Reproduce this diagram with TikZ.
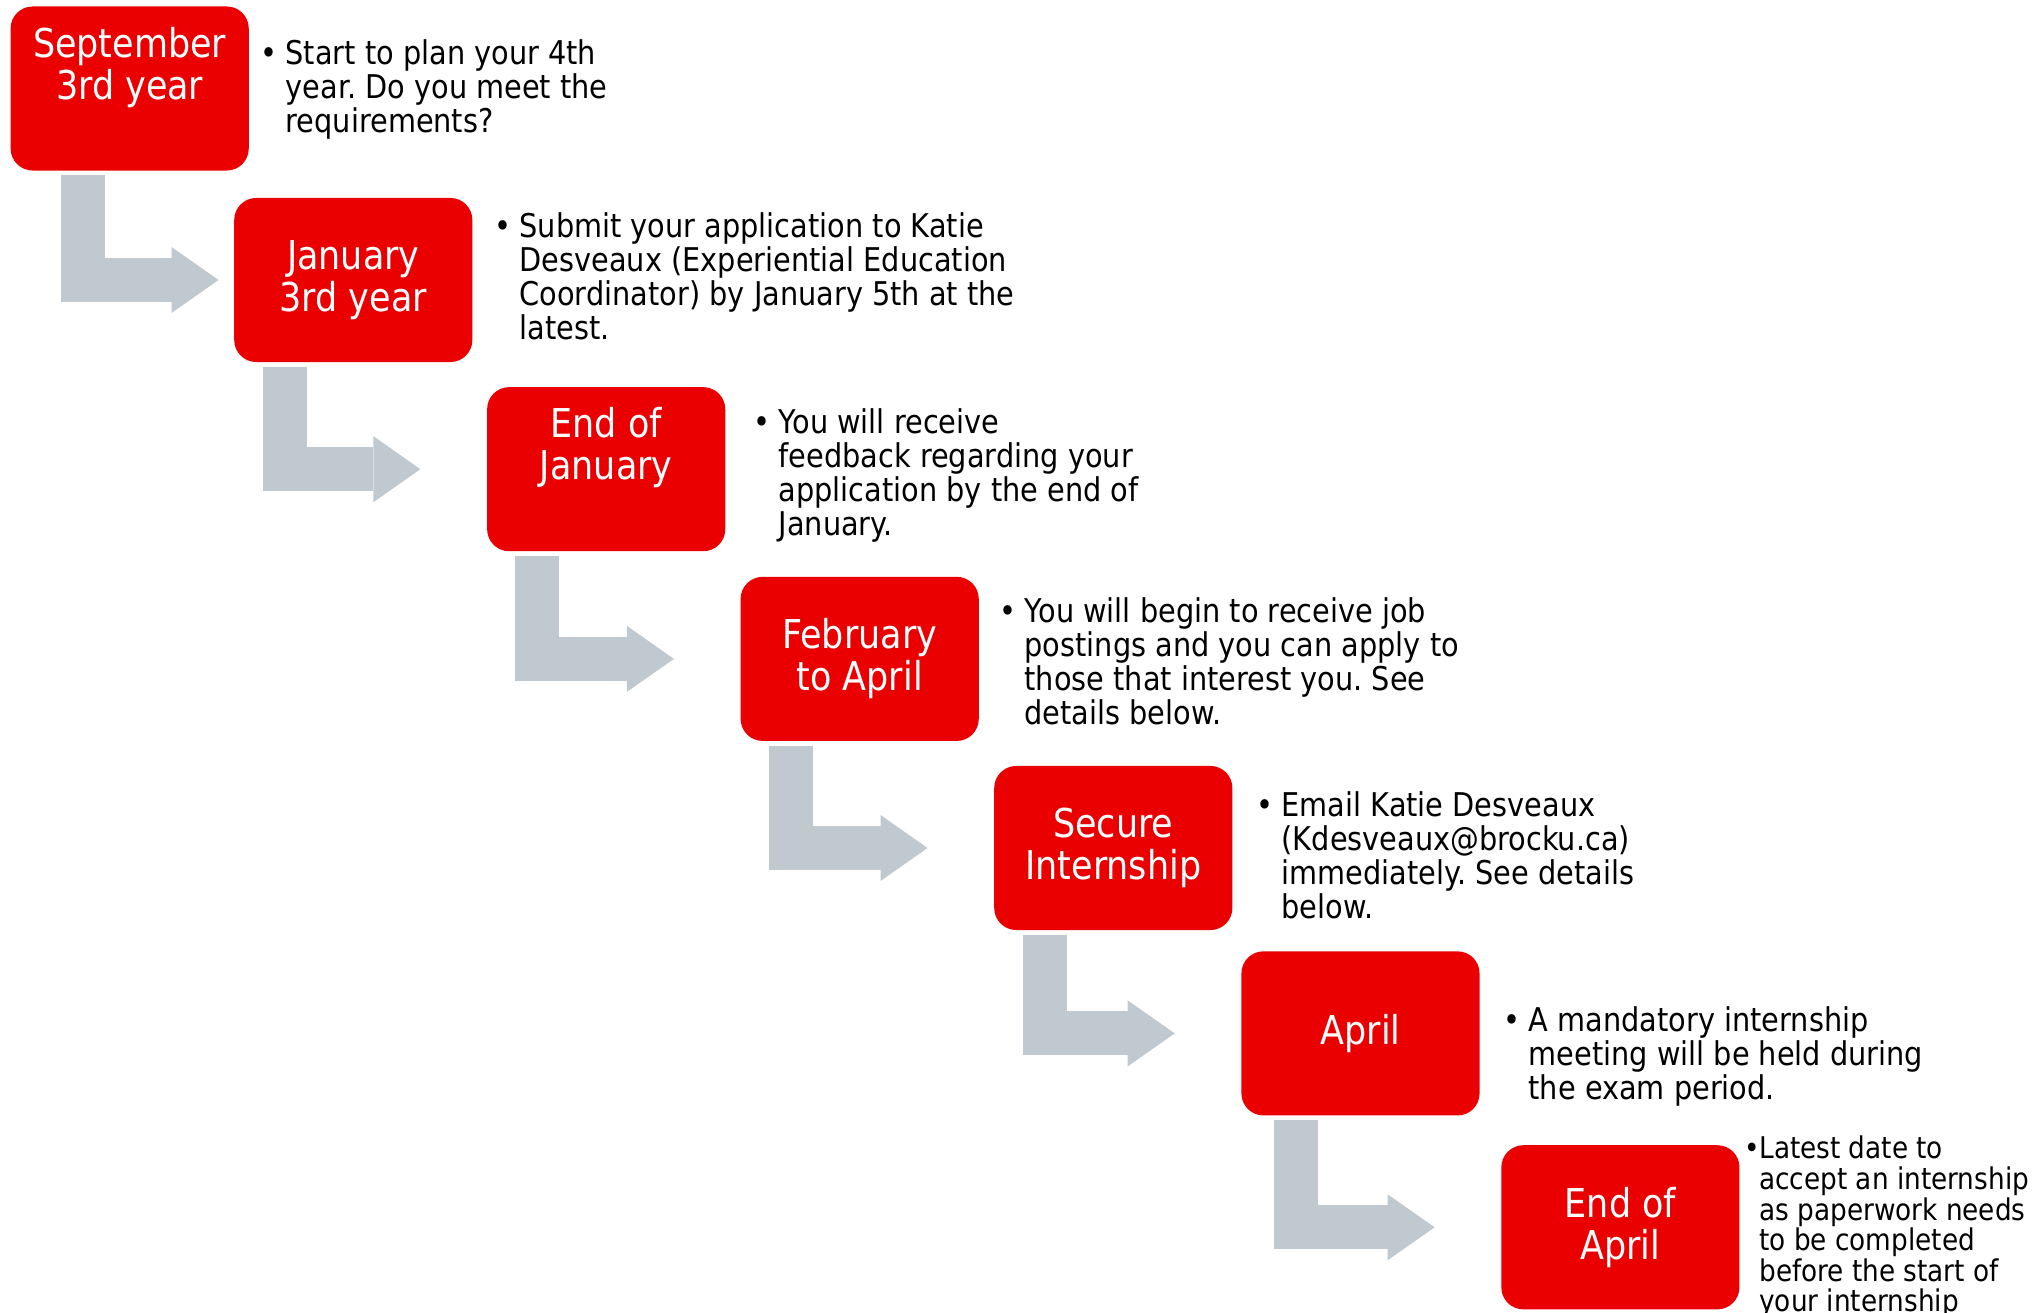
\documentclass[tikz,border=0pt]{standalone}
\usepackage{fontspec}
\setmainfont{DejaVu Sans}[FakeStretch=0.88]
\usetikzlibrary{arrows.meta,calc}
\frenchspacing
\definecolor{stagered}{RGB}{234,0,0}
\definecolor{elbowgrey}{RGB}{192,200,208}
\tikzstyle{stage}=[fill=stagered, rounded corners=0.22cm, minimum width=2.38cm, minimum height=1.64cm, inner sep=0pt, text=white, align=center, font=\fontsize{11.3}{11.95}\selectfont]
\tikzstyle{note}=[anchor=base west, inner sep=0pt, font=\fontsize{9.3}{9.6}\selectfont]
\tikzstyle{elbow}=[draw=elbowgrey, line width=4.4mm, line join=miter, -{Triangle[length=4.7mm, width=6.6mm, line width=0pt]}]
\newcommand{\bul}[2][7.1pt]{%
  \makebox[#1][l]{\textbullet}%
  \vtop{\lineskiplimit=-\maxdimen\let\\\cr\halign{##\hfil\cr#2\crcr}}%
}

\begin{document}
\begin{tikzpicture}[x=0.01cm, y=-0.01cm]
    \useasboundingbox (0,0) rectangle (2044,1313);
    % stages
    \node[stage] (s1) at (129.7,88.5) {September\\3rd year\\[2.5pt]~};
    \node[stage] (s2) at (353.3,280) {January\\3rd year};
    \node[stage] (s3) at (606.2,469.2) {End of\\January\\[2.5pt]~};
    \node[stage] (s4) at (859.7,658.9) {February\\to April};
    \node[stage] (s5) at (1113.3,848) {Secure\\Internship};
    \node[stage] (s6) at (1360.5,1033.4) {April};
    \node[stage] (s7) at (1620.4,1227.3) {End of\\April};
    % notes
    \node[note] (n1) at (260,65) {\bul{Start to plan your 4th\\year. Do you meet the\\requirements?}};
    \node[note] (n2) at (494,238) {\bul{Submit your application to Katie\\Desveaux (Experiential Education\\Coordinator) by January 5th at the\\latest.}};
    \node[note] (n3) at (753,434) {\bul{You will receive\\feedback regarding your\\application by the end of\\January.}};
    \node[note] (n4) at (999,623) {\bul{You will begin to receive job\\postings and you can apply to\\those that interest you. See\\details below.}};
    \node[note] (n5) at (1256,817) {\bul{Email Katie Desveaux\\(Kdesveaux@brocku.ca)\\immediately. See details\\below.}};
    \node[note] (n6) at (1503,1032) {\bul{A mandatory internship\\meeting will be held during\\the exam period.}};
    \node[note, font=\fontsize{8.5}{8.68}\selectfont] (n7) at (1743.5,1159) {\bul[4.3pt]{Latest date to\\accept an internship\\as paperwork needs\\to be completed\\before the start of\\your internship}};
    % elbow arrows
    \draw[elbow] ($(s1.south west)+(73,4)$) |- ($(s2.west)+(-15,0)$);
    \draw[elbow] ($(s2.south west)+(51,4)$) |- ($(s3.west)+(-66,0)$);
    \draw[elbow] ($(s3.south west)+(51,4)$) |- ($(s4.west)+(-66,0)$);
    \draw[elbow] ($(s4.south west)+(51,4)$) |- ($(s5.west)+(-66,0)$);
    \draw[elbow] ($(s5.south west)+(51,4)$) |- ($(s6.west)+(-66,0)$);
    \draw[elbow] ($(s6.south west)+(55,4)$) |- ($(s7.west)+(-66,0)$);
\end{tikzpicture}
\end{document}
